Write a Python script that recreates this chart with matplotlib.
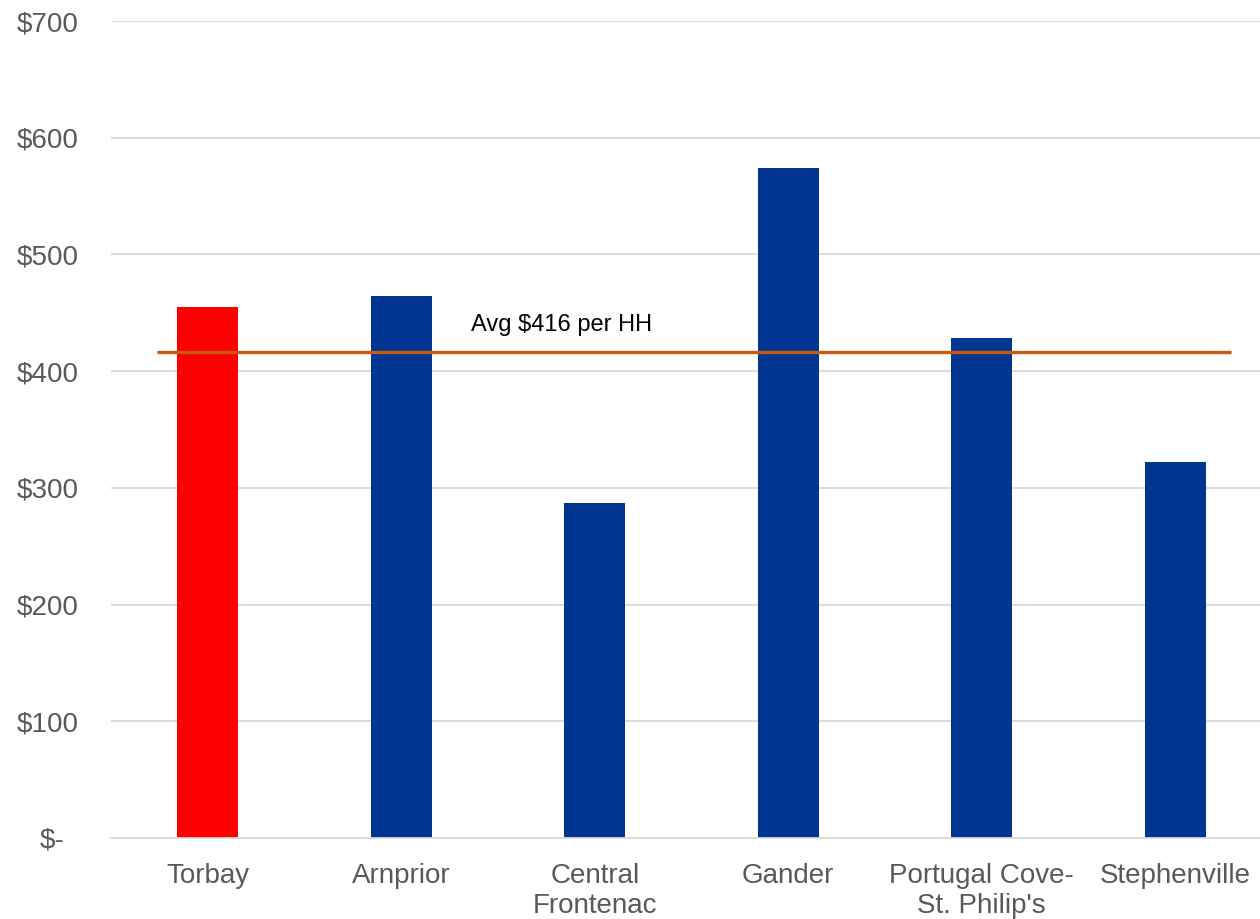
import numpy as np
import matplotlib

matplotlib.use("Agg")
import matplotlib.pyplot as plt
from matplotlib.ticker import FuncFormatter

plt.rcParams["font.family"] = ["Liberation Sans", "DejaVu Sans"]

towns = ["Torbay", "Arnprior", "Central\nFrontenac", "Gander",
         "Portugal Cove-\nSt. Philip's", "Stephenville"]
cost_per_hh = [455, 464, 287, 574, 428, 322]
avg_cost = 416
avg_label = f"Avg ${avg_cost} per HH"

BLUE = "#003591"
RED = "#FF0000"
AVG = "#C55A11"
GRID = "#D9D9D9"
TEXT = "#595959"

fig = plt.figure(figsize=(12.6, 9.19), dpi=100)
ax = fig.add_axes([111 / 1260, 1 - 838 / 919, 1 - 111 / 1260, (838 - 21) / 919])

x = np.arange(len(towns))
colors = [RED] + [BLUE] * (len(towns) - 1)
ax.bar(x, cost_per_hh, width=0.314, color=colors, zorder=2)

# household average across all towns
ax.plot([-0.26, 5.29], [avg_cost, avg_cost], color=AVG, lw=2.4,
        solid_capstyle="butt", zorder=3)
ax.text(1.83, avg_cost + 14, avg_label, ha="center", va="bottom",
        fontsize=17, color="black")

ax.set_xlim(-0.5, -0.5 + (1260 - 111) / 193.5)
ax.set_ylim(0, 700)
ax.set_yticks(np.arange(0, 701, 100))
ax.yaxis.set_major_formatter(
    FuncFormatter(lambda v, _: "$-" if v == 0 else f"${v:.0f}"))
ax.set_xticks(x)
ax.set_xticklabels(towns)

ax.grid(axis="y", color=GRID, lw=1.3, zorder=0)
for side in ("top", "right", "left"):
    ax.spines[side].set_visible(False)
ax.spines["bottom"].set_color(GRID)
ax.spines["bottom"].set_linewidth(1.3)
ax.tick_params(axis="both", length=0, labelsize=20, labelcolor=TEXT)
ax.tick_params(axis="x", pad=18)

# accounting-style labels: amounts flush left, the zero dash sits further in
axis_w = 1260 - 111
for val, lab in zip(ax.get_yticks(), ax.get_yticklabels()):
    lab.set_horizontalalignment("left")
    lab.set_transform(ax.get_yaxis_transform())
    lab.set_position(((40 - 111) / axis_w if val == 0 else (17 - 111) / axis_w, 0))

fig.savefig("out.png", dpi=100)
